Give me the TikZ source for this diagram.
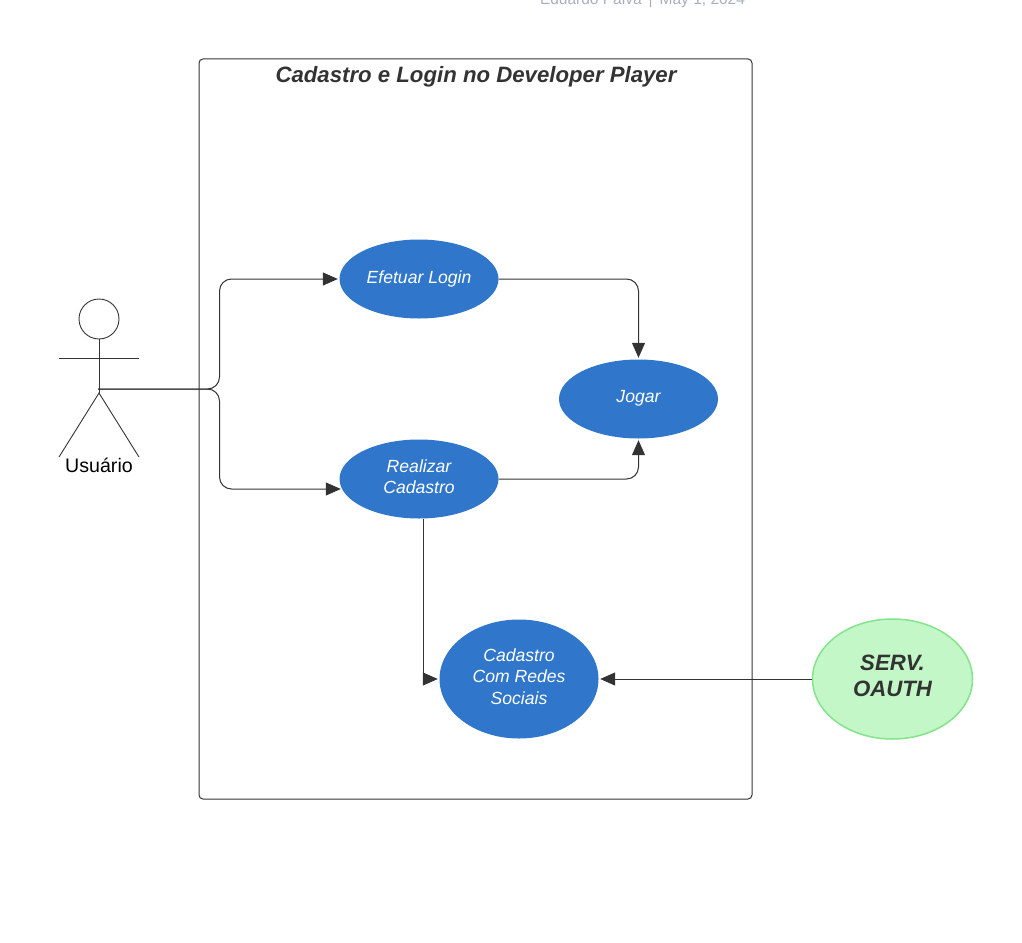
\documentclass[tikz,border=0pt]{standalone}
\usepackage{fontspec}
\setmainfont{Liberation Sans}
\usetikzlibrary{shapes.geometric,arrows.meta,calc}
\definecolor{ink}{HTML}{333333}
\definecolor{usecase}{HTML}{3077CC}
\definecolor{mint}{HTML}{C3F7C8}
\definecolor{mintline}{HTML}{83E48C}
\definecolor{meta}{HTML}{A9AFBC}
\newcommand{\dropfoot}[1]{\rule[-#1pt]{0pt}{0pt}}
\tikzset{
  usecasebox/.style={ellipse,fill=usecase,draw=none,inner sep=0pt,minimum width=159pt,minimum height=79pt,text=white,align=center,font=\fontsize{17.6}{21.4}\selectfont\itshape},
  serverbox/.style={ellipse,fill=mint,draw=mintline,line width=1.5pt,inner sep=0pt,minimum width=160pt,minimum height=120pt,text=ink,align=center,font=\fontsize{22.2}{26.5}\selectfont\bfseries\itshape},
  link/.style={draw=ink,line width=1pt,rounded corners=12pt,shorten >=1.5pt,-{Triangle[length=15pt,width=13pt,fill=ink]}},
  plain/.style={draw=ink,line width=0.9pt},
}
\begin{document}
\begin{tikzpicture}[x=1pt,y=-1pt]
\useasboundingbox (0,0) rectangle (1022,942);
\node[text=meta,font=\fontsize{15.5}{18}\selectfont] (meta) at (642.5,1) {Eduardo Paiva\hspace{7pt}|\hspace{7pt}May 1, 2024};
\node[draw=ink,line width=1pt,rounded corners=4pt,minimum width=553pt,minimum height=740pt,inner sep=0pt] (frame) at (475.5,429) {};
\node[text=ink,font=\fontsize{22.2}{26}\selectfont\bfseries\itshape] (title) at (476,77) {Cadastro e Login no Developer Player};
\node[usecasebox] (login) at (419,279) {Efetuar Login\dropfoot{4.5}};
\node[usecasebox] (jogar) at (638.5,399) {Jogar\dropfoot{4.5}};
\node[usecasebox] (real) at (419,479) {Realizar\\Cadastro\dropfoot{5.2}};
\node[usecasebox,minimum height=119pt] (redes) at (519,679) {Cadastro\\Com Redes\\Sociais\dropfoot{5.2}};
\node[serverbox] (oauth) at (892.5,679) {SERV.\\OAUTH\dropfoot{6.2}};
% actor
\node[circle,draw=ink,line width=0.9pt,minimum size=40pt,inner sep=0pt] (head) at (99,319) {};
\coordinate (hub) at (98,389);
\coordinate (crotch) at (99,393);
\coordinate (armL) at (59,358);
\coordinate (armR) at (139,358);
\coordinate (legL) at (59,457);
\coordinate (legR) at (139,457);
\coordinate (bus) at (219.5,389);
\draw[plain] (head.south) -- (crotch);
\draw[plain] (armL) -- (armR);
\draw[plain] (legL) -- (crotch) -- (legR);
\node[text=black,font=\fontsize{19.6}{23}\selectfont] (actor) at (99,465) {Usuário};
% connectors
\draw[link] (hub) -- (bus) |- (login.west);
\draw[link,shorten >=-1.5pt] (hub) -- (bus) |- ([yshift=-10pt]real.west);
\draw[link] (login.east) -| (jogar.north);
\draw[link] (real.east) -| (jogar.south);
\draw[link,rounded corners=0pt] ([xshift=4pt]real.south) |- (redes.west);
\draw[link] (oauth.west) -- (redes.east);
\end{tikzpicture}
\end{document}
